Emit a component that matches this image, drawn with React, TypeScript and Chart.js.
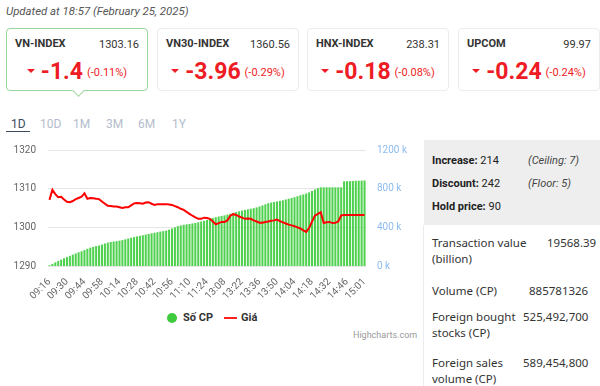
import React, { useEffect, useRef } from "react";
import { Chart, registerables } from "chart.js";

Chart.register(...registerables);

const TICK_LABELS = [
  "09:16", "09:30", "09:44", "09:58", "10:14", "10:28", "10:42", "10:56", "11:10", "11:24",
  "13:08", "13:22", "13:36", "13:50", "14:04", "14:18", "14:32", "14:46", "15:01",
];

const PRICE = [
  1307.1, 1309.7, 1308.6, 1307.8, 1307.9, 1307.2, 1306.6, 1306.5, 1306.8, 1307.3,
  1307.6, 1307.9, 1308.8, 1307.4, 1307.6, 1307.5, 1307.4, 1307.3, 1306.7, 1306.1,
  1305.6, 1305.5, 1305.4, 1305.4, 1305.2, 1305.0, 1305.2, 1305.2, 1305.7, 1306.2,
  1306.3, 1306.2, 1306.1, 1306.4, 1306.5, 1306.1, 1305.8, 1306.0, 1306.0, 1306.0,
  1306.0, 1305.9, 1305.8, 1305.5, 1305.2, 1304.8, 1304.5, 1304.0, 1303.5, 1303.0,
  1302.6, 1302.2, 1302.2, 1302.5, 1302.4, 1302.2, 1301.5, 1300.8, 1301.1, 1301.4,
  1301.4, 1301.8, 1303.0, 1303.4, 1303.2, 1302.8, 1302.5, 1302.2, 1302.3, 1302.2,
  1301.8, 1301.5, 1301.2, 1301.2, 1301.4, 1301.5, 1301.7, 1301.8, 1302.0, 1301.6,
  1301.3, 1301.0, 1300.7, 1300.5, 1300.3, 1300.0, 1299.7, 1299.2, 1298.8, 1299.8,
  1301.5, 1303.0, 1303.5, 1303.9, 1301.1, 1301.3, 1301.4, 1301.1, 1301.2, 1301.5,
  1303.1, 1303.2, 1303.2, 1303.2, 1303.2, 1303.2, 1303.2, 1303.2, 1303.16,
];

const VOLUME_K = [
  8, 22, 38, 52, 66, 80, 92, 105, 118, 130,
  142, 152, 165, 178, 190, 198, 206, 213, 222, 233,
  242, 248, 253, 257, 262, 268, 276, 284, 292, 299,
  306, 312, 318, 325, 332, 338, 344, 350, 356, 361,
  366, 376, 388, 400, 412, 420, 426, 431, 435, 440,
  446, 452, 460, 468, 476, 486, 496, 505, 512, 518,
  524, 532, 540, 550, 559, 566, 573, 580, 586, 592,
  598, 606, 616, 627, 638, 650, 656, 662, 668, 674,
  680, 688, 696, 704, 712, 722, 732, 740, 750, 762,
  776, 792, 806, 814, 814, 814, 814, 814, 814, 814,
  814, 876, 877, 878, 880, 882, 883, 884, 885,
];

const POINTS_PER_TICK = 6;
const CATEGORIES = PRICE.map((_, i) =>
  i % POINTS_PER_TICK === 0 ? TICK_LABELS[i / POINTS_PER_TICK] || "" : ""
);

const CARDS = [
  { name: "VN-INDEX", value: "1303.16", change: "-1.4", pct: "(-0.11%)", active: true, left: 6 },
  { name: "VN30-INDEX", value: "1360.56", change: "-3.96", pct: "(-0.29%)", active: false, left: 157 },
  { name: "HNX-INDEX", value: "238.31", change: "-0.18", pct: "(-0.08%)", active: false, left: 307 },
  { name: "UPCOM", value: "99.97", change: "-0.24", pct: "(-0.24%)", active: false, left: 458 },
];

const TABS = [
  { t: "1D", x: 11 },
  { t: "10D", x: 40 },
  { t: "1M", x: 73 },
  { t: "3M", x: 106 },
  { t: "6M", x: 138 },
  { t: "1Y", x: 172 },
];

const RED = "#ee1c25";
const FONT = "Roboto, 'Noto Sans', sans-serif";

function PriceChart() {
  const ref = useRef<HTMLCanvasElement | null>(null);
  useEffect(() => {
    if (!ref.current) return;
    const chart = new Chart(ref.current, {
      type: "bar",
      data: {
        labels: CATEGORIES,
        datasets: [
          {
            type: "bar",
            label: "Số CP",
            data: VOLUME_K,
            yAxisID: "y1",
            backgroundColor: "#4fd14f",
            barPercentage: 0.7,
            categoryPercentage: 1,
            order: 1,
          },
          {
            type: "line",
            label: "Giá",
            data: PRICE,
            yAxisID: "y",
            borderColor: "#ff0000",
            borderWidth: 2,
            pointRadius: 0,
            tension: 0,
            order: 0,
          } as any,
        ],
      },
      options: {
        animation: false,
        responsive: true,
        maintainAspectRatio: false,
        layout: { padding: { top: 0, left: 0, right: 0, bottom: 0 } },
        plugins: { legend: { display: false }, tooltip: { enabled: false } },
        scales: {
          x: {
            offset: true,
            grid: { display: false },
            border: { display: false },
            ticks: {
              autoSkip: false,
              minRotation: 45,
              maxRotation: 45,
              padding: 2,
              color: "#666",
              font: { family: FONT, size: 10 },
            },
            afterFit: (s: any) => {
              s.height = 34;
            },
          },
          y: {
            position: "left",
            min: 1290,
            max: 1320,
            ticks: {
              stepSize: 10,
              padding: 12,
              color: "#666",
              font: { family: FONT, size: 10 },
              callback: (v: any) => String(v),
            },
            grid: { color: "#e6e6e6", drawTicks: false },
            border: { display: false },
            afterFit: (s: any) => {
              s.width = 48;
            },
          },
          y1: {
            position: "right",
            min: 0,
            max: 1200,
            ticks: {
              stepSize: 400,
              padding: 11,
              color: "#8dbbee",
              font: { family: FONT, size: 10 },
              callback: (v: any) => v + " k",
            },
            grid: { display: false, drawTicks: false },
            border: { display: false },
            afterFit: (s: any) => {
              s.width = 54;
            },
          },
        },
      },
    });
    return () => chart.destroy();
  }, []);
  return <canvas ref={ref} style={{ width: "100%", height: "100%" }} />;
}

export default function App() {
  const abs = (o: any): React.CSSProperties => ({ position: "absolute", ...o });
  return (
    <div
      style={{
        position: "absolute",
        left: 0,
        top: 0,
        width: 600,
        height: 386,
        overflow: "hidden",
        background: "#fff",
        fontFamily: FONT,
        color: "#333",
      }}
    >
      <div style={abs({ left: 6, top: 4, fontSize: 11.4, fontStyle: "italic", color: "#555", whiteSpace: "nowrap" })}>
        Updated at 18:57 (February 25, 2025)
      </div>

      {CARDS.map((c) => (
        <div
          key={c.name}
          style={abs({
            left: c.left,
            top: 28,
            width: 142,
            height: 63,
            boxSizing: "border-box",
            border: c.active ? "1px solid #9ad49a" : "1px solid #ececec",
            borderRadius: 4,
            background: "#fff",
          })}
        >
          <div style={abs({ left: 8, top: 8, fontSize: 11, fontWeight: 700, color: "#333" })}>{c.name}</div>
          <div style={abs({ right: 8, top: 9, fontSize: 11, color: "#333" })}>{c.value}</div>
          <div
            style={abs({
              left: 0,
              right: 0,
              top: 29,
              height: 26,
              display: "flex",
              justifyContent: "center",
              alignItems: "center",
              color: RED,
              whiteSpace: "nowrap",
            })}
          >
            <span
              style={{
                display: "inline-block",
                width: 0,
                height: 0,
                borderLeft: "4px solid transparent",
                borderRight: "4px solid transparent",
                borderTop: `4px solid ${RED}`,
                marginRight: 6,
              }}
            />
            <span style={{ fontSize: 23, fontWeight: 700, marginRight: 4 }}>{c.change}</span>
            <span style={{ fontSize: 11, marginTop: 3 }}>{c.pct}</span>
          </div>
          {c.active && (
            <div
              style={abs({
                left: 67,
                bottom: -5,
                width: 8,
                height: 8,
                background: "#fff",
                borderRight: "1px solid #9ad49a",
                borderBottom: "1px solid #9ad49a",
                transform: "rotate(45deg)",
              })}
            />
          )}
        </div>
      ))}

      {TABS.map((t, i) => (
        <div
          key={t.t}
          style={abs({
            left: t.x,
            top: 117,
            fontSize: 12,
            color: i === 0 ? "#3d4a60" : "#b4bccd",
          })}
        >
          {t.t}
        </div>
      ))}
      <div style={abs({ left: 6, top: 131, width: 24, height: 1, background: "#3d4a60" })} />

      <div style={abs({ left: 0, top: 132, width: 420, height: 168 })}>
        <PriceChart />
      </div>

      <div style={abs({ left: 167, top: 313, width: 10, height: 10, borderRadius: 5, background: "#3ecb3e" })} />
      <div style={abs({ left: 183, top: 311, fontSize: 11, fontWeight: 700, color: "#333" })}>Số CP</div>
      <div style={abs({ left: 224, top: 317, width: 13, height: 2, background: "#ff2020" })} />
      <div style={abs({ left: 241, top: 311, fontSize: 11, fontWeight: 700, color: "#333" })}>Giá</div>
      <div style={abs({ left: 353, top: 330, fontSize: 9, color: "#999" })}>Highcharts.com</div>

      <div style={abs({ left: 424, top: 140, width: 176, height: 85, background: "#eeeeee" })} />
      <div style={abs({ left: 423, top: 225, width: 1, height: 161, background: "#ececec" })} />
      {[
        { b: "Increase:", v: " 214", n: "(Ceiling: 7)", y: 154 },
        { b: "Discount:", v: " 242", n: "(Floor: 5)", y: 177 },
        { b: "Hold price:", v: " 90", n: "", y: 200 },
      ].map((r) => (
        <React.Fragment key={r.b}>
          <div style={abs({ left: 432, top: r.y, fontSize: 11, color: "#222", whiteSpace: "nowrap" })}>
            <b>{r.b}</b>
            {r.v}
          </div>
          {r.n && (
            <div style={abs({ left: 528, top: r.y, fontSize: 11, fontStyle: "italic", color: "#444" })}>{r.n}</div>
          )}
        </React.Fragment>
      ))}

      {[
        { l: ["Transaction value", "(billion)"], v: "19568.39", y: 235, vx: 547 },
        { l: ["Volume (CP)"], v: "885781326", y: 283, vx: 529 },
        { l: ["Foreign bought", "stocks (CP)"], v: "525,492,700", y: 309, vx: 523 },
        { l: ["Foreign sales", "volume (CP)"], v: "589,454,800", y: 355, vx: 523 },
      ].map((r) => (
        <React.Fragment key={r.v}>
          <div
            style={abs({
              left: 432,
              top: r.y,
              fontSize: 11.5,
              lineHeight: "16px",
              fontFamily: "'Noto Sans', sans-serif",
              color: "#333",
              whiteSpace: "nowrap",
            })}
          >
            {r.l.map((s) => (
              <div key={s}>{s}</div>
            ))}
          </div>
          <div
            style={abs({
              left: r.vx,
              top: r.y,
              fontSize: 11.5,
              lineHeight: "16px",
              fontFamily: "'Noto Sans', sans-serif",
              color: "#333",
              whiteSpace: "nowrap",
            })}
          >
            {r.v}
          </div>
        </React.Fragment>
      ))}
    </div>
  );
}
